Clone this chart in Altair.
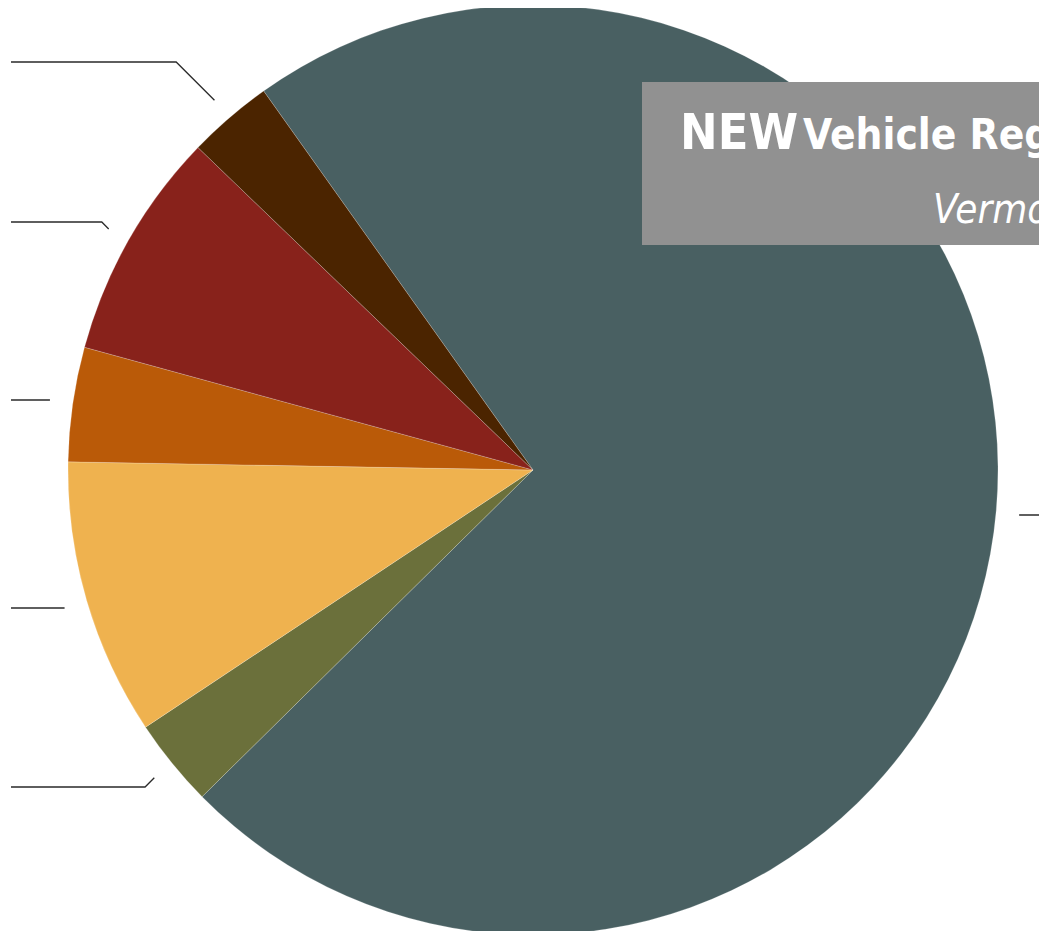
import math
import altair as alt
import pandas as pd

# ---- data (share of new registrations, %) ----
categories = ["Gasoline", "Diesel", "Hybrid", "Flex Fuel", "Electric", "Plug-in Hybrid"]
values = [72.4, 3.07, 9.6, 3.97, 7.94, 2.97]
colors = ["#496062", "#6b703b", "#efb24f", "#ba5a08", "#88221b", "#4b2400"]
# vertical position of each (off-page) label, in pixels
label_y = [507, 779, 600, 392, 214, 54]

# ---- layout constants ----
W, H = 1031, 923
CX, CY, R = 525, 462, 465
START_DEG = 324.6
LEAD_R = 488

df = pd.DataFrame({"cat": categories, "value": values, "idx": list(range(len(values)))})

start = math.radians(START_DEG)
pie = alt.Chart(df).mark_arc(radius=R, stroke="#ffffff", strokeWidth=0.4, strokeOpacity=0.5).encode(
    theta=alt.Theta("value:Q", stack=True, scale=alt.Scale(range=[start, start + 2 * math.pi])),
    color=alt.Color("cat:N", scale=alt.Scale(domain=categories, range=colors), legend=None),
    order=alt.Order("idx:Q"),
    x=alt.value(CX),
    y=alt.value(CY),
)

# leader lines derived from slice mid-angles
total = sum(values)
rows = []
cum = 0.0
for i, (c, v) in enumerate(zip(categories, values)):
    mid = START_DEG + (cum + v / 2) / total * 360.0
    cum += v
    a = math.radians(mid)
    px = CX + LEAD_R * math.sin(a)
    py = CY - LEAD_R * math.cos(a)
    ly = label_y[i]
    dy = abs(ly - py)
    right = math.sin(a) > 0
    sgn = 1 if right else -1
    pts = [(px, py)]
    if dy > 4:
        pts.append((px + sgn * dy, ly))
    else:
        pts[0] = (px, ly)
    pts.append((W + 20 if right else 3, ly))
    for k, (x, y) in enumerate(pts):
        rows.append({"cat": c, "step": k, "x": x, "y": y})
lines_df = pd.DataFrame(rows)

leaders = alt.Chart(lines_df).mark_line(color="#2a2a2a", strokeWidth=1.3).encode(
    x=alt.X("x:Q", scale=None, axis=None),
    y=alt.Y("y:Q", scale=None, axis=None),
    detail="cat:N",
    order=alt.Order("step:Q"),
)

one = pd.DataFrame({"a": [0]})
box = alt.Chart(one).mark_rect(color="#919191").encode(
    x=alt.value(634), x2=alt.value(W + 20), y=alt.value(74), y2=alt.value(237)
)

FONT = "DejaVu Sans Condensed, Roboto Condensed, Liberation Sans Narrow, Roboto, sans-serif"
t1 = alt.Chart(one).mark_text(text="NEW", font=FONT, fontWeight="bold", fontSize=50,
                              color="white", align="left", baseline="alphabetic").encode(
    x=alt.value(672), y=alt.value(141))
t2 = alt.Chart(one).mark_text(text="Vehicle Registrations", font=FONT, fontWeight="bold", fontSize=42,
                              color="white", align="left", baseline="alphabetic").encode(
    x=alt.value(795), y=alt.value(141))
t3 = alt.Chart(one).mark_text(text="Vermont", font=FONT, fontStyle="italic", fontSize=40,
                              color="white", align="left", baseline="alphabetic").encode(
    x=alt.value(925), y=alt.value(215))

chart = alt.layer(pie, leaders, box, t1, t2, t3).properties(
    width=W, height=H, autosize=alt.AutoSizeParams(type="none"), padding=0
).configure_view(strokeWidth=0)

chart.save("out.html", embed_options={"renderer": "svg", "actions": False})
